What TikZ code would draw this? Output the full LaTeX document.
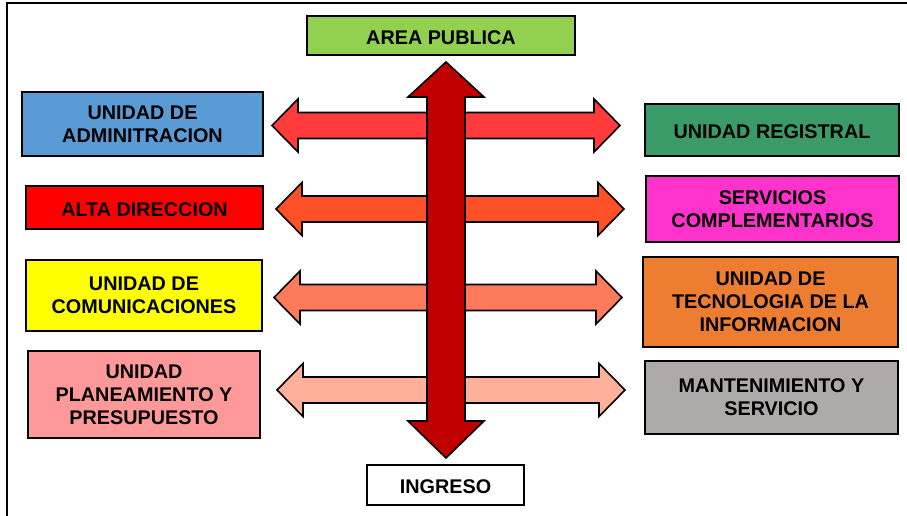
\documentclass[tikz,border=0pt]{standalone}
\usepackage{fontspec}
\setmainfont{Liberation Sans}
\definecolor{cArea}{HTML}{92D050}
\definecolor{cAdm}{HTML}{5B9BD5}
\definecolor{cAlta}{HTML}{FF0000}
\definecolor{cCom}{HTML}{FFFF00}
\definecolor{cPlan}{HTML}{FF9999}
\definecolor{cReg}{HTML}{3A9A68}
\definecolor{cServ}{HTML}{FF33CC}
\definecolor{cTec}{HTML}{ED7D31}
\definecolor{cMant}{HTML}{AEAAAA}
\definecolor{aOne}{HTML}{FF3B3B}
\definecolor{aTwo}{HTML}{FF5028}
\definecolor{aThree}{HTML}{FF7A5A}
\definecolor{aFour}{HTML}{FFB09A}
\definecolor{aVert}{HTML}{C00000}
\newcommand\hdarrow[4]{%
  \draw[blockarrow, fill=#4] (#2,#1) -- (#2+26,#1-26.5) -- (#2+26,#1-13) -- (#3-26,#1-13)
    -- (#3-26,#1-26.5) -- (#3,#1) -- (#3-26,#1+26.5) -- (#3-26,#1+13)
    -- (#2+26,#1+13) -- (#2+26,#1+26.5) -- cycle;}
\begin{document}
\begin{tikzpicture}[x=1pt,y=-1pt,
  box/.style={draw=black, line width=1.8pt, inner sep=0pt, align=center,
    font=\fontsize{19.8}{23}\selectfont\bfseries, text=black,
    execute at begin node={\rule{0pt}{17.5pt}}},
  blockarrow/.style={draw=black, line width=1.6pt, line join=miter}]
\useasboundingbox (0,0) rectangle (907,515);
\fill[white] (0,0) rectangle (907,515);
\draw[line width=1.8pt] (7,530) -- (7,3) -- (920,3);

% boxes
\node[box, fill=cArea, minimum width=268pt, minimum height=39pt] (area) at (441,35.5) {AREA PUBLICA};
\node[box, fill=cAdm, minimum width=241pt, minimum height=64pt] (adm) at (142.5,124) {UNIDAD DE\\ADMINITRACION};
\node[box, fill=cAlta, minimum width=237pt, minimum height=43pt] (alta) at (144.5,207.5) {ALTA DIRECCION};
\node[box, fill=cCom, minimum width=236pt, minimum height=71pt] (com) at (144,295.5) {UNIDAD DE\\COMUNICACIONES};
\node[box, fill=cPlan, minimum width=232pt, minimum height=87pt] (plan) at (144,394.5) {UNIDAD\\PLANEAMIENTO Y\\PRESUPUESTO};
\node[box, fill=cReg, minimum width=254pt, minimum height=52pt] (reg) at (772,130) {UNIDAD REGISTRAL};
\node[box, fill=cServ, minimum width=253pt, minimum height=66pt] (serv) at (772.5,209) {SERVICIOS\\COMPLEMENTARIOS};
\node[box, fill=cTec, minimum width=255pt, minimum height=90pt] (tec) at (770.5,302) {UNIDAD DE\\TECNOLOGIA DE LA\\INFORMACION};
\node[box, fill=cMant, minimum width=253pt, minimum height=73pt] (mant) at (771.5,397.5) {MANTENIMIENTO Y\\SERVICIO};
\node[box, fill=white, minimum width=157pt, minimum height=40pt] (ing) at (445.5,485) {INGRESO};

% horizontal double arrows
\hdarrow{125.5}{272}{620}{aOne}
\hdarrow{209}{276}{624}{aTwo}
\hdarrow{297.5}{274}{622}{aThree}
\hdarrow{390}{277}{625}{aFour}

% vertical double arrow
\draw[blockarrow, fill=aVert] (446,62) -- (484,97) -- (465,97) -- (465,421) -- (484,421)
  -- (446,458) -- (408,421) -- (427,421) -- (427,97) -- (408,97) -- cycle;
\end{tikzpicture}
\end{document}
